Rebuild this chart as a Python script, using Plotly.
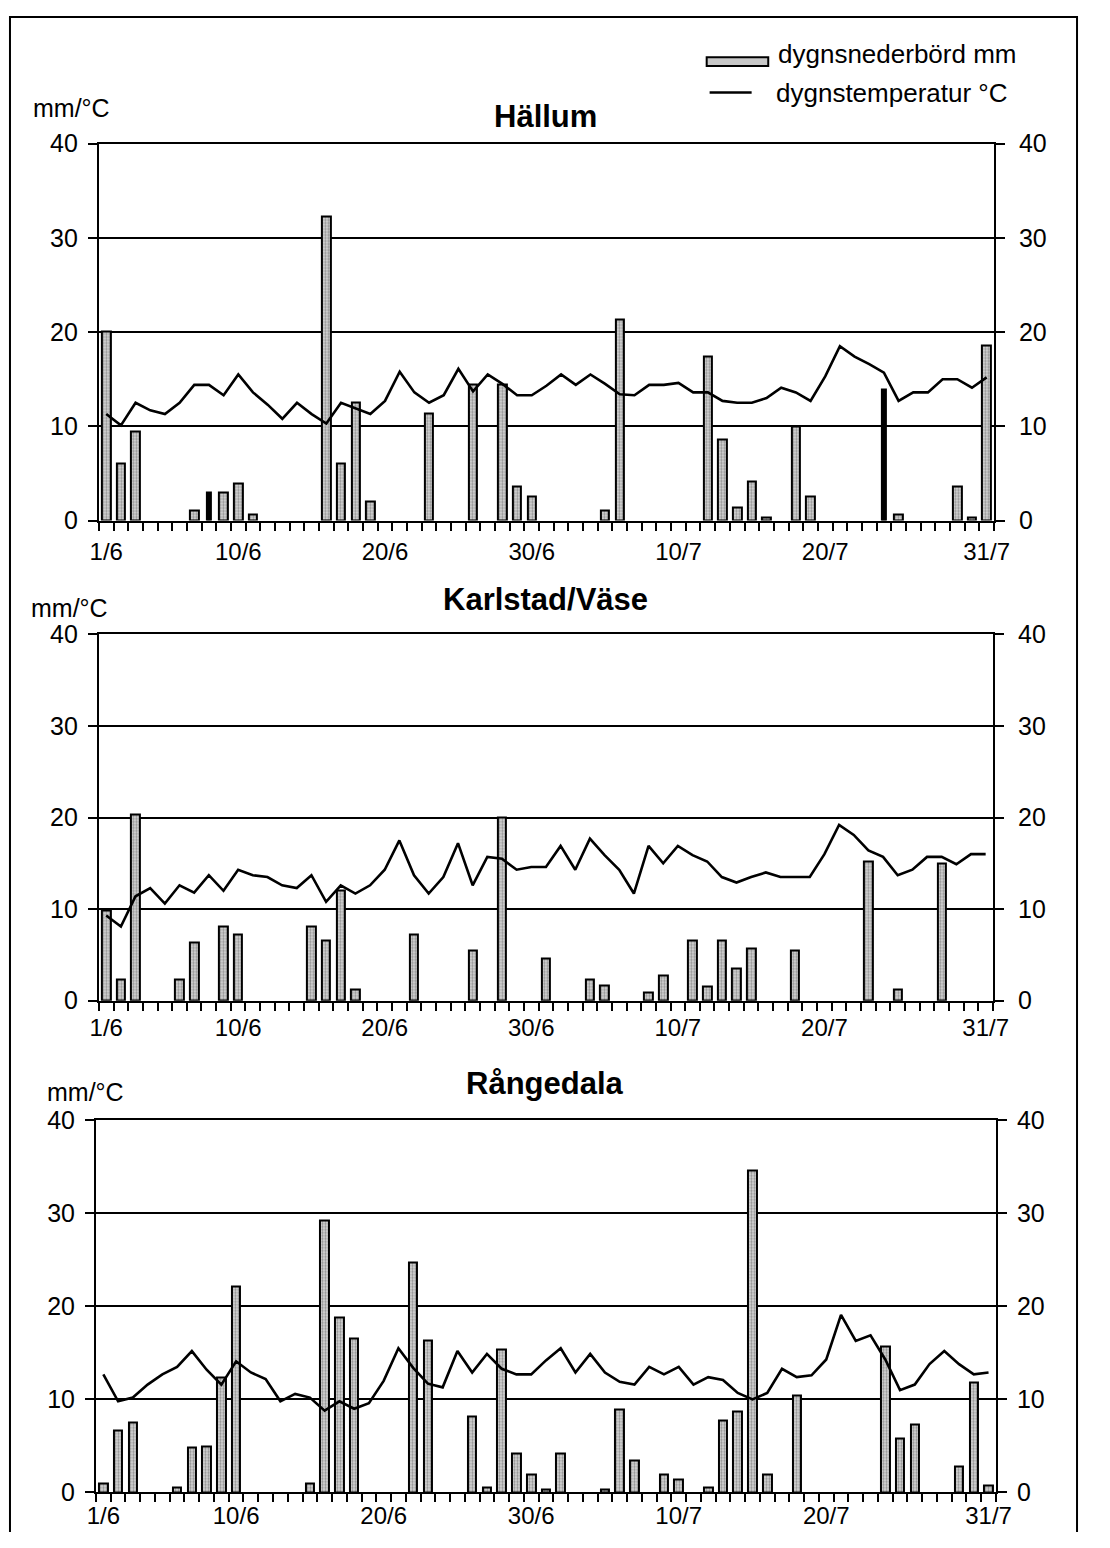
import plotly.graph_objects as go

# page body keeps the browser's default 8px margin, so the figure is placed at (8, 8)
OX, OY = 8, 8
W, H = 1094, 1532
FONT = "Liberation Sans, Arial, sans-serif"

days = list(range(1, 62))
tick_days = [1, 10, 20, 30, 40, 50, 61]
tick_labels = ["1/6", "10/6", "20/6", "30/6", "10/7", "20/7", "31/7"]
y_ticks = [0, 10, 20, 30, 40]

stations = ["Hällum", "Karlstad/Väse", "Rångedala"]

hallum_precip = [
    20.0, 6.0, 9.4, 0, 0, 0, 1.1, 3.0, 3.0, 3.9,
    0.6, 0, 0, 0, 0, 32.3, 6.0, 12.5, 2.0, 0,
    0, 0, 11.3, 0, 0, 14.4, 0, 14.4, 3.6, 2.5,
    0, 0, 0, 0, 1.1, 21.3, 0, 0, 0, 0,
    0, 17.4, 8.6, 1.4, 4.1, 0.3, 0, 10.0, 2.5, 0,
    0, 0, 0, 13.9, 0.6, 0, 0, 0, 3.6, 0.3,
    18.6]
hallum_temp = [
    11.3, 10.1, 12.5, 11.7, 11.3, 12.5, 14.4, 14.4, 13.3, 15.5,
    13.6, 12.3, 10.8, 12.5, 11.3, 10.3, 12.5, 11.9, 11.3, 12.7,
    15.8, 13.6, 12.5, 13.3, 16.1, 13.7, 15.5, 14.5, 13.3, 13.3,
    14.3, 15.5, 14.4, 15.5, 14.5, 13.4, 13.3, 14.4, 14.4, 14.6,
    13.6, 13.6, 12.7, 12.5, 12.5, 13.0, 14.1, 13.6, 12.7, 15.3,
    18.5, 17.4, 16.6, 15.7, 12.7, 13.6, 13.6, 15.0, 15.0, 14.1,
    15.2]

karlstad_precip = [
    9.8, 2.3, 20.3, 0, 0, 2.3, 6.4, 0, 8.1, 7.2,
    0, 0, 0, 0, 8.1, 6.6, 12.0, 1.2, 0, 0,
    0, 7.2, 0, 0, 0, 5.5, 0, 20.0, 0, 0,
    4.6, 0, 0, 2.3, 1.7, 0, 0, 0.9, 2.7, 0,
    6.6, 1.5, 6.6, 3.5, 5.7, 0, 0, 5.5, 0, 0,
    0, 0, 15.2, 0, 1.2, 0, 0, 15.0, 0, 0,
    0]
karlstad_temp = [
    9.3, 8.1, 11.4, 12.3, 10.6, 12.6, 11.8, 13.7, 12.0, 14.3,
    13.7, 13.5, 12.6, 12.3, 13.7, 10.8, 12.6, 11.7, 12.6, 14.3,
    17.5, 13.7, 11.7, 13.5, 17.2, 12.6, 15.7, 15.5, 14.3, 14.6,
    14.6, 16.9, 14.3, 17.7, 15.9, 14.3, 11.7, 16.9, 15.0, 16.9,
    15.9, 15.2, 13.5, 12.9, 13.5, 14.0, 13.5, 13.5, 13.5, 16.0,
    19.2, 18.1, 16.4, 15.7, 13.7, 14.3, 15.7, 15.7, 14.9, 16.0,
    16.0]

rangedala_precip = [
    1.0, 6.7, 7.5, 0, 0, 0.5, 4.8, 5.0, 12.4, 22.2,
    0, 0, 0, 0, 1.0, 29.2, 18.8, 16.6, 0, 0,
    0, 24.7, 16.3, 0, 0, 8.2, 0.5, 15.4, 4.2, 1.9,
    0.3, 4.2, 0, 0, 0.3, 8.9, 3.4, 0, 1.9, 1.4,
    0, 0.5, 7.8, 8.7, 34.6, 1.9, 0, 10.4, 0, 0,
    0, 0, 0, 15.7, 5.8, 7.3, 0, 0, 2.8, 11.8,
    0.8]
rangedala_temp = [
    12.7, 9.8, 10.2, 11.6, 12.7, 13.5, 15.2, 13.2, 11.6, 14.1,
    12.9, 12.2, 9.8, 10.6, 10.2, 8.8, 9.8, 9.0, 9.6, 12.0,
    15.5, 13.4, 11.7, 11.3, 15.2, 12.9, 14.9, 13.3, 12.7, 12.7,
    14.2, 15.5, 12.9, 14.9, 12.9, 11.9, 11.6, 13.5, 12.7, 13.5,
    11.6, 12.4, 12.1, 10.7, 10.0, 10.7, 13.3, 12.4, 12.6, 14.3,
    19.1, 16.3, 16.9, 14.3, 11.0, 11.6, 13.8, 15.2, 13.8, 12.7,
    12.9]

precip = [hallum_precip, karlstad_precip, rangedala_precip]
temp = [hallum_temp, karlstad_temp, rangedala_temp]
dark_days = [[8, 54], [], []]   # bars rendered solid black in the original

# panel pixel boxes in page coordinates: (left, right, top, bottom)
boxes = [(100, 1016, 140, 524), (100, 1015, 640, 1013), (97, 1018, 1135, 1514)]
title_y = [112, 604, 1097]
unit_pos = [(31, 104), (28, 613), (45, 1106)]
xlab_ticklen = [8, 4, 1]
xlab_standoff = [1, 1, 0]


def fx(px):
    return (px - OX) / W


def fy(py):
    return 1 - (py - OY) / H


fig = go.Figure()
layout = dict(
    width=W, height=H, margin=dict(l=0, r=0, t=0, b=0),
    paper_bgcolor="white", plot_bgcolor="white",
    font=dict(family=FONT, size=25, color="black"),
    showlegend=False, bargap=0,
)

annotations = []
shapes = []

for i in range(3):
    n = i + 1
    xa = "x" if n == 1 else f"x{n}"
    ya = f"y{2 * n - 1}" if n > 1 else "y"
    yb = f"y{2 * n}"
    xname = "xaxis" if n == 1 else f"xaxis{n}"
    yname = "yaxis" if n == 1 else f"yaxis{2 * n - 1}"
    ybname = f"yaxis{2 * n}"
    L, R, T, B = boxes[i]

    colors = ["black" if d in dark_days[i] else "#dadada" for d in days]
    shapes_p = ["" if d in dark_days[i] else "." for d in days]
    widths = [0.3 if d in dark_days[i] else 0.58 for d in days]
    bar_y = [v if v > 0 else None for v in precip[i]]

    fig.add_trace(go.Bar(
        x=days, y=bar_y, xaxis=xa, yaxis=ya, width=widths,
        marker=dict(color=colors, line=dict(color="black", width=2),
                    pattern=dict(shape=shapes_p, fgcolor="#858585",
                                 bgcolor=colors, size=3, solidity=0.45)),
        name="dygnsnederbörd mm",
    ))
    fig.add_trace(go.Scatter(
        x=days, y=temp[i], xaxis=xa, yaxis=ya, mode="lines",
        line=dict(color="black", width=2.6), name="dygnstemperatur °C",
    ))
    # invisible trace to activate the right-hand axis
    fig.add_trace(go.Scatter(x=[days[0]], y=[0], xaxis=xa, yaxis=yb,
                             mode="markers", marker=dict(opacity=0),
                             hoverinfo="skip"))

    layout[xname] = dict(
        domain=[fx(L), fx(R)], anchor=ya, range=[0.5, 61.5],
        showline=True, linecolor="black", linewidth=2, mirror=True,
        tickmode="array", tickvals=tick_days, ticktext=tick_labels,
        ticks="outside", ticklen=xlab_ticklen[i], tickcolor="rgba(0,0,0,0)",
        ticklabelstandoff=xlab_standoff[i],
        tickfont=dict(size=24),
        showgrid=False, zeroline=False,
        minor=dict(tickmode="array", tickvals=[d - 0.5 for d in days] + [61.5],
                   ticks="outside", ticklen=8, tickwidth=2, tickcolor="black",
                   showgrid=False),
    )
    layout[yname] = dict(
        domain=[fy(B), fy(T)], anchor=xa, range=[0, 40],
        tickmode="array", tickvals=y_ticks,
        ticks="outside", ticklen=9, tickwidth=2, tickcolor="black",
        ticklabelstandoff=5,
        showline=True, linecolor="black", linewidth=2,
        showgrid=True, gridcolor="black", gridwidth=2, zeroline=False,
        tickfont=dict(size=25),
    )
    layout[ybname] = dict(
        overlaying=ya, anchor=xa, side="right", range=[0, 40],
        tickmode="array", tickvals=y_ticks,
        ticks="outside", ticklen=9, tickwidth=2, tickcolor="black",
        ticklabelstandoff=9 if n < 3 else 5,
        showline=True, linecolor="black", linewidth=2,
        showgrid=False, zeroline=False, tickfont=dict(size=25),
    )

    annotations.append(dict(
        text=f"<b>{stations[i]}</b>", xref="paper", yref="paper",
        x=fx(557), y=fy(title_y[i]), xanchor="center", yanchor="middle",
        showarrow=False, font=dict(size=31)))
    ux, uy = unit_pos[i]
    annotations.append(dict(
        text="mm/°C", xref="paper", yref="paper", x=fx(ux), y=fy(uy),
        xanchor="left", yanchor="middle", showarrow=False,
        font=dict(size=25)))

# legend (drawn manually)
shapes.append(dict(type="rect", xref="paper", yref="paper",
                   x0=fx(722), x1=fx(785), y0=fy(61), y1=fy(52),
                   fillcolor="#c8c8c8", line=dict(color="black", width=2)))
shapes.append(dict(type="line", xref="paper", yref="paper",
                   x0=fx(725), x1=fx(768), y0=fy(88), y1=fy(88),
                   line=dict(color="black", width=2.6)))
annotations.append(dict(text="dygnsnederbörd mm", xref="paper", yref="paper",
                        x=fx(793), y=fy(49), xanchor="left", yanchor="middle",
                        showarrow=False, font=dict(size=26)))
annotations.append(dict(text="dygnstemperatur °C", xref="paper", yref="paper",
                        x=fx(791), y=fy(88), xanchor="left", yanchor="middle",
                        showarrow=False, font=dict(size=26)))

# outer frame
shapes.append(dict(type="rect", xref="paper", yref="paper",
                   x0=fx(9), x1=fx(1101), y0=fy(1600), y1=fy(11),
                   line=dict(color="black", width=2), fillcolor="rgba(0,0,0,0)"))

layout["annotations"] = annotations
layout["shapes"] = shapes
fig.update_layout(**layout)

fig.write_html("out.html")
